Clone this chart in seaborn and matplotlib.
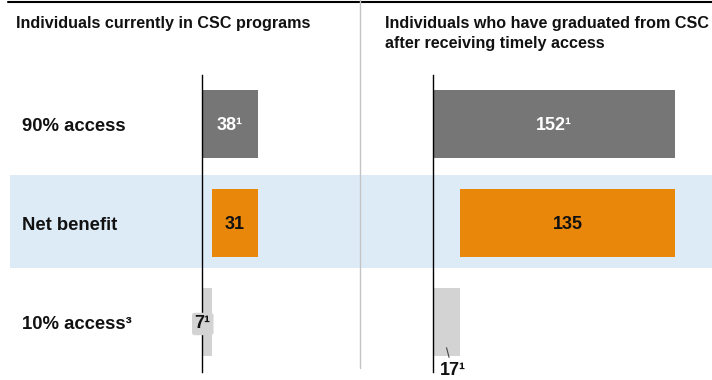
import matplotlib
matplotlib.use("Agg")
import matplotlib.pyplot as plt
import matplotlib.transforms as mtransforms
from matplotlib.patches import Rectangle
from matplotlib.lines import Line2D
import seaborn as sns

# Data
rows = ["90% access", "Net benefit", "10% access\u00b3"]
current_programs = [38, 31, 7]
graduated = [152, 135, 17]
value_labels_current = ["38\u00b9", "31", "7\u00b9"]
value_labels_graduated = ["152\u00b9", "135", "17\u00b9"]
panel_titles = ["Individuals currently in CSC programs",
                "Individuals who have graduated from CSC",
                "after receiving timely access"]

sns.set_style("white")
plt.rcParams["font.family"] = ["Liberation Sans", "DejaVu Sans"]
plt.rcParams["text.color"] = "#111111"

DARK = "#767676"
ORANGE = "#E8870A"
LIGHT = "#D3D3D3"
BAND = "#DDEBF7"
TXT = "#111111"

W, H = 712, 380
fig = plt.figure(figsize=(W / 100, H / 100), dpi=100)
fig.patch.set_facecolor("white")


def px_box(x0, y0, x1, y1):
    """Figure-fraction box from pixel coordinates (origin top-left)."""
    return [x0 / W, 1 - y1 / H, (x1 - x0) / W, (y1 - y0) / H]


# Highlight band behind the net-benefit row
fig.patches.append(Rectangle((10 / W, 1 - 268 / H), (W - 10) / W, 93 / H,
                             transform=fig.transFigure, facecolor=BAND,
                             edgecolor="none", zorder=-2))
# Top rule and panel divider
fig.lines.append(Line2D([8 / W, 1], [1 - 1.5 / H] * 2, transform=fig.transFigure,
                        color="black", lw=1.5, zorder=-1))
fig.lines.append(Line2D([360 / W] * 2, [1, 1 - 368 / H], transform=fig.transFigure,
                        color="#C4C4C4", lw=1.0, zorder=-1))

# Panel titles
title_kw = dict(fontsize=11.6, fontweight="bold", va="baseline", ha="left",
                color=TXT)
fig.text(16 / W, 1 - 28 / H, panel_titles[0], **title_kw)
fig.text(385 / W, 1 - 28 / H, panel_titles[1], **title_kw)
fig.text(385 / W, 1 - 48 / H, panel_titles[2], **title_kw)

ax_l = fig.add_axes(px_box(202, 75, 358, 372))
ax_r = fig.add_axes(px_box(433, 75, 712, 372))

VALUE_SIZE = 13
ROW_SIZE = 13.3


def waterfall(ax, values, labels, xmax):
    top, net, low = values
    ends = [top, low + net, low]
    sns.barplot(x=ends, y=rows, hue=rows, palette=[DARK, ORANGE, LIGHT],
                orient="h", width=0.687, legend=False, saturation=1,
                ax=ax, zorder=2)
    # the net-benefit bar spans from the low case to the high case
    net_bar = ax.containers[1].patches[0]
    net_bar.set_x(low)
    net_bar.set_width(net)
    for bar in ax.patches:
        bar.set_edgecolor("none")

    ax.set_xlim(0, xmax)
    ax.set_ylim(2.505, -0.495)
    ax.set_facecolor("none")
    ax.set_xticks([])
    ax.set_yticks([])
    ax.set_xlabel("")
    ax.set_ylabel("")
    for side in ["top", "right", "bottom"]:
        ax.spines[side].set_visible(False)
    ax.spines["left"].set_color("black")
    ax.spines["left"].set_linewidth(1.0)
    ax.spines["left"].set_zorder(3)

    ax.text(top / 2, 0.02, labels[0], color="white", fontsize=VALUE_SIZE,
            fontweight="bold", ha="center", va="center", zorder=4)
    ax.text(low + net / 2, 1.02, labels[1], color=TXT, fontsize=VALUE_SIZE,
            fontweight="bold", ha="center", va="center", zorder=4)


waterfall(ax_l, current_programs, value_labels_current, 106)
waterfall(ax_r, graduated, value_labels_graduated, 175)

# Small low-case values: label on the bar with a halo, or below with a leader
ax_l.text(0.5, 2.02, value_labels_current[2], color=TXT, fontsize=VALUE_SIZE,
          fontweight="bold", ha="center", va="center", zorder=4,
          bbox=dict(boxstyle="round,pad=0.15", facecolor=LIGHT,
                    edgecolor="none"))
low_r = graduated[2]
ax_r.annotate(value_labels_graduated[2], xy=(low_r * 0.5, 2.26),
              xytext=(low_r * 0.72, 2.49), textcoords="data",
              color=TXT, fontsize=VALUE_SIZE, fontweight="bold",
              ha="center", va="center", annotation_clip=False,
              arrowprops=dict(arrowstyle="-", color="#444444", lw=0.8,
                              shrinkA=1, shrinkB=0), zorder=4)

# Row labels in the left margin
row_tf = mtransforms.blended_transform_factory(fig.transFigure, ax_l.transData)
for i, name in enumerate(rows):
    ax_l.text(22 / W, i + 0.03, name, transform=row_tf, fontsize=ROW_SIZE,
              fontweight="bold", ha="left", va="center", clip_on=False,
              color=TXT)

fig.savefig("out.png", dpi=100)
